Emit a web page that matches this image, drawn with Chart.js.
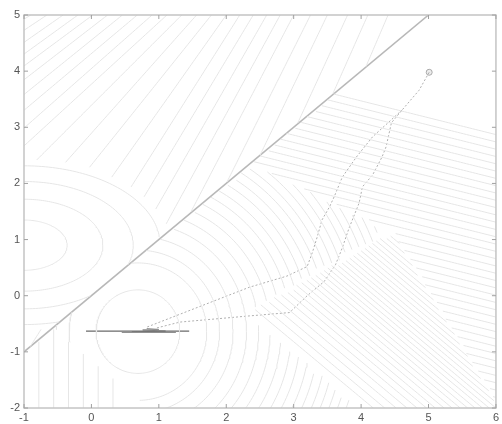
<!DOCTYPE html>
<html>
<head>
<meta charset="utf-8">
<script src="https://cdn.jsdelivr.net/npm/chart.js@4/dist/chart.umd.min.js"></script>
<style>
  html, body { margin: 0; padding: 0; background: #fff; }
  #wrap { width: 502px; height: 424px; }
</style>
</head>
<body>
<div id="wrap"><canvas id="chart" width="502" height="424"></canvas></div>
<script>
// axes
const xTicks = [-1, 0, 1, 2, 3, 4, 5, 6];
const yTicks = [-2, -1, 0, 1, 2, 3, 4, 5];

// constraint line y = x
const boundaryX = [-1, 5];
const boundaryY = [-1, 5];

// iterates (two dotted branches from the start point)
const pathAX = [5.01, 4.86, 4.61, 4.45, 4.37, 4.31, 4.17, 4.02, 3.97, 3.82, 3.72, 3.62, 3.45, 3.2, 2.94, 2.34, 1.31, 0.95];
const pathAY = [3.98, 3.66, 3.31, 3.08, 2.65, 2.47, 2.15, 1.94, 1.65, 1.2, 0.85, 0.55, 0.25, 0.0, -0.3, -0.36, -0.47, -0.58];
const pathBX = [4.61, 4.17, 3.93, 3.72, 3.60, 3.53, 3.42, 3.35, 3.28, 3.2, 2.9, 2.34, 0.82];
const pathBY = [3.31, 2.83, 2.47, 2.11, 1.76, 1.58, 1.35, 1.05, 0.78, 0.52, 0.35, 0.15, -0.56];
const startPoint = [5.01, 3.98];

// final oscillation near the minimum
const segX = [-0.08, 1.45];
const segY = [-0.63, -0.63];
const zigX = [0.45, 1.25, 0.6, 1.1, 0.76, 1.0, 0.82];
const zigY = [-0.655, -0.655, -0.645, -0.63, -0.61, -0.6, -0.585];

// contour levels
const minimum = [0.69, -0.64];
const circleRadii = [0.62, 1.02, 1.21, 1.41, 1.61, 1.79, 1.96, 2.12, 2.27, 2.41, 2.55, 2.68, 2.81, 2.93, 3.05, 3.17, 3.29, 3.4, 3.51, 3.62, 3.73, 3.84];
const verticalLevels = [-0.78, -0.56, -0.34, -0.12, 0.10, 0.32];
const diagLevels = [2.0, 2.18, 2.35, 2.52, 2.68, 2.83, 2.97, 3.1, 3.23, 3.35, 3.47, 3.58, 3.69, 3.8, 3.9, 4.0, 4.1, 4.2, 4.3, 4.4, 4.5, 4.6, 4.7, 4.8, 4.9, 5.0, 5.1, 5.2, 5.3, 5.4, 5.5];
const flatLevels = [-1.9, -1.77, -1.64, -1.51, -1.38, -1.25, -1.12, -0.99, -0.86, -0.73, -0.6, -0.47, -0.34, -0.21, -0.08, 0.05, 0.18, 0.31, 0.44, 0.57, 0.7, 0.83, 0.96, 1.09, 1.22, 1.35, 1.48, 1.61, 1.74, 1.87, 2.0, 2.13, 2.26, 2.39, 2.52, 2.65, 2.78, 2.91, 3.04, 3.17];
const upperCentre = [-1, 0.9];
const upperRadii = [0.64, 1.17, 1.62, 2.02];
const fanTopX = [-4.0, -3.6, -3.2, -2.85, -2.52, -2.2, -1.9, -1.64, -1.4, -1.15, -0.9, -0.66, -0.42, -0.2, 0.02, 0.24, 0.46, 0.68, 0.9, 1.12, 1.34, 1.56, 1.78, 2.0, 2.2, 2.4, 2.6, 2.8, 3.0, 3.25, 3.5, 3.8, 4.1, 4.4];
const fanSlope = [-0.72, -0.72, -0.73, -0.74, -0.76, -0.7, -0.68, -0.67, -0.66, -0.7, -0.75, -0.8, -0.84, -0.87, -0.89, -0.93, -0.97, -1.01, -1.06, -1.1, -1.2, -1.35, -1.5, -1.7, -1.9, -2.0, -2.1, -2.2, -2.3, -2.4, -2.5, -2.6, -2.7, -2.8];

// regions of the piecewise surface
const below = (x, y) => y < x;
const inVert = (x, y) => below(x, y) && x + y < -1.15;
const inFlat = (x, y) => below(x, y) && (1.98 * x + y > 9.98 || 0.573 * x + y > 3.71);
const inDiag = (x, y) => below(x, y) && !inFlat(x, y) && x + y > 2.0 + 2.5 * Math.max(0, y + 0.3);
const inCircle = (x, y) => below(x, y) && !inVert(x, y) && !inFlat(x, y) && !inDiag(x, y);
const inEllipse = (x, y) => !below(x, y) && Math.pow((x + 1) / 2.15, 2) + Math.pow((y - 0.9) / 1.5, 2) < 1;
const inFan = (x, y) => !below(x, y) && !inEllipse(x, y);
const above = (x, y) => !below(x, y);

function sampleLine(x0, y0, x1, y1, keep, out) {
  const n = 160;
  for (let i = 0; i <= n; i++) {
    const x = x0 + (x1 - x0) * i / n, y = y0 + (y1 - y0) * i / n;
    out.push(keep(x, y) ? { x, y } : { x, y: null });
  }
  out.push({ x: x1, y: null });
}
function sampleEllipse(cx, cy, rx, ry, keep, out) {
  const n = 240;
  for (let i = 0; i <= n; i++) {
    const t = 2 * Math.PI * i / n;
    const x = cx + rx * Math.cos(t), y = cy + ry * Math.sin(t);
    out.push(keep(x, y) ? { x, y } : { x, y: null });
  }
  out.push({ x: cx, y: null });
}

const circles = [], verticals = [], diags = [], flats = [], ellipses = [], fans = [];
circleRadii.forEach(r => sampleEllipse(minimum[0], minimum[1], r, r * 1.2, inCircle, circles));
verticalLevels.forEach(v => sampleLine(v, -2, v, 5, inVert, verticals));
diagLevels.forEach(c => sampleLine(c + 2, -2, c - 5, 5, inDiag, diags));
flatLevels.forEach(c => sampleLine(-1, c + 1.8, 6, c - 0.3, inFlat, flats));
upperRadii.forEach(r => sampleEllipse(upperCentre[0], upperCentre[1], r, r * 0.7, above, ellipses));
fanTopX.forEach((t, i) => sampleLine(t, 5, t + 7 / fanSlope[i], -2, inFan, fans));

const contourStyle = { showLine: true, pointRadius: 0, borderWidth: 1, borderColor: '#e6e6e6', spanGaps: false };
const pts = (xs, ys) => xs.map((x, i) => ({ x, y: ys[i] }));

new Chart(document.getElementById('chart'), {
  type: 'scatter',
  data: {
    datasets: [
      Object.assign({ data: circles }, contourStyle),
      Object.assign({ data: verticals }, contourStyle),
      Object.assign({ data: diags }, contourStyle),
      Object.assign({ data: flats }, contourStyle),
      Object.assign({ data: ellipses }, contourStyle),
      Object.assign({ data: fans }, contourStyle),
      { data: pts(boundaryX, boundaryY), showLine: true, pointRadius: 0, borderWidth: 1.6, borderColor: '#b8b8b8' },
      { data: pts(pathAX, pathAY), showLine: true, pointRadius: 0, borderWidth: 1, borderColor: '#b0b0b0', borderDash: [2, 2] },
      { data: pts(pathBX, pathBY), showLine: true, pointRadius: 0, borderWidth: 1, borderColor: '#b0b0b0', borderDash: [2, 2] },
      { data: [{ x: startPoint[0], y: startPoint[1] }], pointRadius: 3, pointBorderColor: '#aaa', pointBackgroundColor: '#ececec', pointBorderWidth: 1 },
      { data: pts(segX, segY), showLine: true, pointRadius: 0, borderWidth: 1.4, borderColor: '#6a6a6a' },
      { data: pts(zigX, zigY), showLine: true, pointRadius: 0, borderWidth: 1, borderColor: '#909090' }
    ]
  },
  options: {
    responsive: false,
    animation: false,
    layout: { padding: { top: 15, right: 5, left: 0, bottom: 0 } },
    plugins: { legend: { display: false }, tooltip: { enabled: false } },
    scales: {
      x: {
        type: 'linear', min: -1, max: 6,
        afterBuildTicks: s => { s.ticks = xTicks.map(v => ({ value: v })); },
        afterFit: s => { s.height = 16; },
        grid: { display: false, drawTicks: false }, border: { display: false },
        ticks: { padding: 3, color: '#555', font: { family: 'Liberation Sans', size: 11 }, maxRotation: 0 }
      },
      y: {
        type: 'linear', min: -2, max: 5,
        afterBuildTicks: s => { s.ticks = yTicks.map(v => ({ value: v })); },
        afterFit: s => { s.width = 24; },
        grid: { display: false, drawTicks: false }, border: { display: false },
        ticks: { padding: 4, color: '#555', font: { family: 'Liberation Sans', size: 11 } }
      }
    }
  },
  plugins: [{
    id: 'frame',
    afterDatasetsDraw(chart) {
      const { ctx, chartArea: a, scales } = chart;
      ctx.save();
      ctx.strokeStyle = '#c4c4c4';
      ctx.lineWidth = 1.5;
      ctx.strokeRect(a.left, a.top, a.right - a.left, a.bottom - a.top);
      ctx.strokeStyle = '#a0a0a0';
      ctx.lineWidth = 1;
      ctx.beginPath();
      xTicks.forEach(v => {
        const px = scales.x.getPixelForValue(v);
        ctx.moveTo(px, a.bottom); ctx.lineTo(px, a.bottom - 4);
        ctx.moveTo(px, a.top); ctx.lineTo(px, a.top + 4);
      });
      yTicks.forEach(v => {
        const py = scales.y.getPixelForValue(v);
        ctx.moveTo(a.left, py); ctx.lineTo(a.left + 4, py);
        ctx.moveTo(a.right, py); ctx.lineTo(a.right - 4, py);
      });
      ctx.stroke();
      ctx.restore();
    }
  }]
});
</script>
</body>
</html>
